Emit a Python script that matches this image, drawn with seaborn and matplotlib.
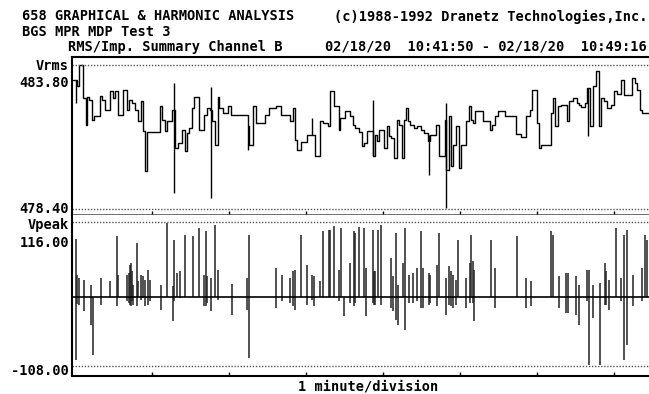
import matplotlib
matplotlib.use("Agg")
import matplotlib.pyplot as plt
import seaborn as sns
import numpy as np
import pandas as pd

# header / label text
head_left = "658 GRAPHICAL & HARMONIC ANALYSIS"
head_right = "(c)1988-1992 Dranetz Technologies,Inc."
head_test = "BGS MPR MDP Test 3"
head_chan = "RMS/Imp. Summary Channel B"
head_time = "02/18/20  10:41:50 - 02/18/20  10:49:16"
x_label = "1 minute/division"
rms_name, peak_name = "Vrms", "Vpeak"

# scale limits (dotted lines)
rms_lim = [478.40, 483.80]
peak_lim = [-108.00, 116.00]

# seconds after 10:41:50
end_t = 449.6
tick_t = [62, 122, 182, 242, 302, 362, 422]

# Vrms summary steps: start time (s) and level (V)
rms_t = [1.0, 4.2, 5.7, 8.8, 10.7, 12.0, 13.5, 15.9, 17.2, 21.8, 23.1, 25.7,
         29.6, 31.7, 33.5, 36.1, 40.0, 43.2, 44.7, 46.5, 49.1, 51.7, 53.6,
         55.6, 56.9, 58.8, 68.6, 69.9, 72.5, 74.4, 77.7, 80.3, 82.9, 85.5,
         88.1, 89.6, 91.4, 93.5, 95.3, 98.7, 103.1, 104.9, 107.5, 109.1,
         111.7, 113.5, 114.8, 117.4, 121.3, 123.9, 136.9, 138.2, 141.3, 143.4,
         150.4, 153.8, 159.0, 162.9, 169.9, 172.0, 174.1, 175.1, 178.5, 183.1,
         189.1, 193.5, 195.3, 199.5, 201.3, 203.9, 207.8, 209.1, 212.5, 214.3,
         216.9, 218.7, 220.8, 223.4, 226.0, 227.3, 229.9, 234.3, 235.9, 237.7,
         239.5, 242.9, 245.5, 247.3, 248.9, 250.7, 253.3, 255.1, 257.2, 258.5,
         260.3, 261.9, 263.7, 266.3, 268.9, 272.1, 274.2, 277.3, 278.6, 283.8,
         285.6, 290.3, 291.6, 293.4, 295.5, 296.8, 299.4, 301.2, 302.8, 307.2,
         309.0, 310.6, 312.4, 314.2, 315.8, 320.2, 325.4, 327.2, 329.3, 331.9,
         337.6, 346.2, 350.1, 354.0, 356.6, 358.4, 362.0, 363.8, 365.1, 373.4,
         375.0, 376.0, 378.6, 380.7, 385.4, 387.2, 390.6, 393.2, 395.0, 396.8,
         399.4, 401.5, 403.6, 406.2, 408.0, 410.6, 411.9, 414.5, 416.6, 419.7,
         422.3, 424.4, 428.0, 430.1, 431.4, 436.6, 438.4, 440.5, 442.6, 444.4]
rms_v = [483.25, 483.00, 483.79, 482.56, 481.56, 482.59, 482.50, 481.75, 481.87,
         482.62, 482.50, 482.12, 482.81, 482.56, 482.81, 481.94, 482.87, 482.12,
         482.50, 482.37, 482.12, 481.69, 482.46, 481.31, 479.81, 481.30, 482.25,
         481.75, 481.31, 481.69, 482.12, 480.69, 480.87, 481.37, 480.56, 481.25,
         481.44, 482.19, 482.59, 481.37, 481.94, 482.19, 482.12, 481.69, 480.81,
         482.59, 482.19, 482.00, 482.25, 481.91, 481.50, 480.79, 482.25, 481.62,
         481.91, 482.19, 482.25, 481.91, 481.69, 482.19, 481.00, 480.62, 480.91,
         481.19, 480.37, 481.69, 481.62, 481.50, 482.81, 482.25, 481.37, 481.81,
         482.06, 482.09, 481.87, 481.56, 481.44, 481.29, 480.75, 480.87, 481.31,
         480.37, 481.19, 480.94, 481.37, 480.69, 481.50, 481.12, 481.06, 480.31,
         481.75, 481.56, 480.31, 481.75, 482.19, 481.69, 481.56, 481.44, 481.50,
         481.37, 481.25, 480.94, 481.19, 481.56, 480.37, 481.75, 479.87, 481.87,
         480.00, 480.81, 481.50, 479.94, 480.81, 481.69, 482.25, 481.75, 481.62,
         482.06, 482.09, 481.69, 481.37, 481.56, 481.87, 482.09, 481.87, 481.21,
         481.10, 481.87, 482.12, 482.87, 481.62, 480.69, 480.81, 482.00, 482.56,
         481.50, 482.25, 482.31, 481.69, 482.44, 482.56, 482.37, 482.31, 482.21,
         482.37, 482.94, 481.50, 483.00, 483.56, 481.50, 482.56, 482.44, 482.19,
         482.31, 482.81, 482.71, 483.25, 482.69, 482.66, 483.31, 483.12, 482.87,
         482.12, 482.00]

# short Vrms excursions
spike_t = [2.9, 79.5, 108.3, 136.9, 187.0, 234.5, 278.0, 291.6, 401.8]
spike_hi = [483.25, 483.12, 482.97, 481.50, 481.81, 482.50, 481.19, 482.37, 482.94]
spike_lo = [482.37, 479.00, 478.81, 480.62, 481.19, 480.37, 479.69, 478.44, 481.12]

# Vpeak impulses: time, max, min
imp_t = [2.8, 4.2, 5.7, 9.6, 14.6, 16.1, 22.4, 29.6, 34.8, 36.1, 43.2, 44.2,
         45.2, 46.0, 46.8, 47.8, 50.4, 51.2, 53.8, 55.1, 56.9, 59.5, 60.8,
         69.2, 73.8, 79.0, 79.8, 82.2, 84.2, 88.1, 94.0, 98.7, 103.1, 104.4,
         105.2, 108.3, 111.7, 113.5, 124.7, 136.1, 137.7, 159.0, 163.4, 169.9,
         172.5, 173.6, 178.5, 183.1, 187.0, 188.3, 193.5, 195.3, 200.0, 201.3,
         203.9, 208.3, 209.4, 212.2, 216.9, 219.5, 220.8, 223.9, 227.3, 229.4,
         234.3, 235.4, 236.4, 238.5, 240.8, 248.9, 250.2, 252.3, 254.1, 258.0,
         259.3, 262.4, 265.8, 268.9, 272.1, 273.4, 277.8, 278.9, 284.3, 286.1,
         291.6, 293.7, 295.0, 296.8, 298.9, 300.7, 307.2, 309.8, 311.1, 312.4,
         313.2, 326.7, 329.6, 346.5, 354.0, 357.9, 373.4, 375.0, 379.4, 384.6,
         386.7, 392.9, 395.0, 401.5, 403.1, 406.2, 411.1, 415.0, 416.1, 418.7,
         423.6, 428.0, 430.1, 432.2, 437.4, 443.9, 446.5, 448.3]
imp_hi = [90.0, 33.0, 28.9, 26.3, 18.5, 0.0, 28.9, 24.8, 95.0, 34.0, 34.0, 36.7,
          49.6, 52.2, 39.3, 18.5, 83.3, 23.7, 34.0, 31.5, 26.3, 41.9, 26.3,
          18.5, 114.4, 15.9, 88.5, 36.7, 39.3, 96.3, 93.7, 106.7, 34.0, 101.5,
          31.5, 28.9, 111.8, 41.9, 19.5, 28.9, 96.3, 44.5, 34.0, 28.9,
          39.3, 41.9, 96.3, 49.6, 34.0, 31.5, 23.7, 101.5, 104.1, 104.1,
          109.3, 41.9, 106.7, 0.0, 52.2, 101.5, 98.9, 107.7, 106.7, 44.5,
          104.1, 39.3, 39.3, 104.1, 111.8, 60.0, 31.5, 98.9, 18.5, 52.2,
          106.7, 34.0, 36.7, 44.5, 101.5, 44.5, 36.7, 34.0, 49.6, 98.9,
          28.9, 47.0, 39.3, 34.0, 26.3, 88.5, 28.9, 52.2, 96.3, 54.8,
          41.9, 88.5, 44.5, 93.7, 28.9, 23.7, 101.5, 96.3, 31.5, 36.7,
          36.7, 31.5, 18.5, 41.9, 41.9, 18.5, 21.1, 52.2, 39.3, 26.3,
          106.7, 28.9, 96.3, 104.1, 34.0, 44.5, 96.3, 88.5]
imp_lo = [-98.2, -11.0, -12.6, -23.0, -43.7, -90.4, -12.6, 0.0, -15.2, 0.0, -7.4,
          -10.0, -12.6, -15.2, -7.4, -12.6, -15.2, 0.0, -4.8, -2.2, -15.2, -12.6,
          -7.4, -20.4, 0.0, -38.5, -7.4, 0.0, -2.2, 0.0, 0.0, 0.0, -15.2, -15.2,
          -10.0, -23.0, 0.0, -4.8, -28.2, -20.4, -95.6, -17.8, -7.4, -10.0,
          -15.2, -20.4, 0.0, -12.6, -4.8, -15.2, 0.0, 0.0, 0.0, 0.0,
          0.0, -7.4, 0.0, -30.8, -10.0, -15.2, -10.0, 0.0, 0.0, -30.8,
          -10.0, -12.6, -12.6, 0.0, -12.6, -17.8, -23.0, -35.9, -43.7, 0.0,
          -51.5, -10.0, -10.0, -7.4, -17.8, -17.8, -12.6, -10.0, -15.2, 0.0,
          -28.2, -12.6, -15.2, -17.8, -12.6, 0.0, -17.8, -10.0, 0.0, -10.0,
          -38.5, 0.0, -17.8, 0.0, -17.8, -15.2, 0.0, 0.0, -17.8, -25.6,
          -25.6, -28.2, -43.7, -7.4, -105.9, -33.3, -105.9, -12.6, -12.6, -20.4,
          0.0, -7.4, -98.2, -74.8, -15.2, -7.4, 0.0, 0.0]

rms_df = pd.DataFrame({"t": rms_t + [end_t], "v": rms_v + [rms_v[-1]]})

sns.set_style("white")
plt.rcParams["font.family"] = ["DejaVu Sans Mono"]

W, H = 649, 394
fig = plt.figure(figsize=(W / 100, H / 100), dpi=100)


def fx(px):
    return px / W


def fy(py):
    return 1 - py / H


ax1 = fig.add_axes([fx(72), fy(215), 1 - fx(72), fy(57) - fy(215)])
ax2 = fig.add_axes([fx(72), fy(376), 1 - fx(72), fy(215) - fy(376)])

# Vrms panel
sns.lineplot(data=rms_df, x="t", y="v", drawstyle="steps-post", estimator=None,
             color="black", lw=1.0, ax=ax1)
ax1.vlines(spike_t, spike_lo, spike_hi, color="black", lw=1.0)
rms_px = (rms_lim[1] - rms_lim[0]) / 144
ax1.set_ylim(rms_lim[0] - 6 * rms_px, rms_lim[1] + 8 * rms_px)

# Vpeak panel
ax2.vlines(imp_t, imp_lo, imp_hi, color="#222222", lw=1.1)
ax2.axhline(0, color="black", lw=1.2)
pk_px = (peak_lim[1] - peak_lim[0]) / 144
ax2.set_ylim(peak_lim[0] - 10 * pk_px, peak_lim[1] + 7 * pk_px)

for ax, lim in [(ax1, rms_lim), (ax2, peak_lim)]:
    for v in lim:
        ax.axhline(v, color="#555555", lw=1.0, ls=(0, (1, 1.2)))
    ax.set_xlim(0, end_t)
    ax.set_xticks(tick_t)
    ax.set_yticks([])
    ax.set_xlabel("")
    ax.set_ylabel("")
    ax.tick_params(axis="x", direction="in", length=3, width=1, color="black",
                   bottom=True, labelbottom=False)
    ax.spines["right"].set_visible(False)
    ax.spines["left"].set_linewidth(1.5)
    ax.spines["left"].set_color("black")

ax1.spines["top"].set_linewidth(1.5)
ax1.spines["top"].set_color("black")
ax1.spines["bottom"].set_linewidth(1.8)
ax1.spines["bottom"].set_color("#444444")
ax2.spines["top"].set_visible(False)
ax2.spines["bottom"].set_linewidth(1.5)
ax2.spines["bottom"].set_color("black")

fs = 9.8
kw = dict(fontsize=fs, fontweight="bold", va="baseline", color="black")
fig.text(fx(22), fy(20.5), head_left, ha="left", **kw)
fig.text(fx(647), fy(20.5), head_right, ha="right", **kw)
fig.text(fx(22), fy(35.5), head_test, ha="left", **kw)
fig.text(fx(68), fy(51), head_chan, ha="left", **kw)
fig.text(fx(647), fy(51), head_time, ha="right", **kw)

fig.text(fx(69), fy(70), rms_name, ha="right", **kw)
fig.text(fx(69), fy(87), f"{rms_lim[1]:.2f}", ha="right", **kw)
fig.text(fx(69), fy(213), f"{rms_lim[0]:.2f}", ha="right", **kw)
fig.text(fx(69), fy(229), peak_name, ha="right", **kw)
fig.text(fx(69), fy(247), f"{peak_lim[1]:.2f}", ha="right", **kw)
fig.text(fx(69), fy(375), f"{peak_lim[0]:.2f}", ha="right", **kw)
fig.text(fx(298), fy(390), x_label, ha="left", **kw)

fig.savefig("out.png", dpi=100)
